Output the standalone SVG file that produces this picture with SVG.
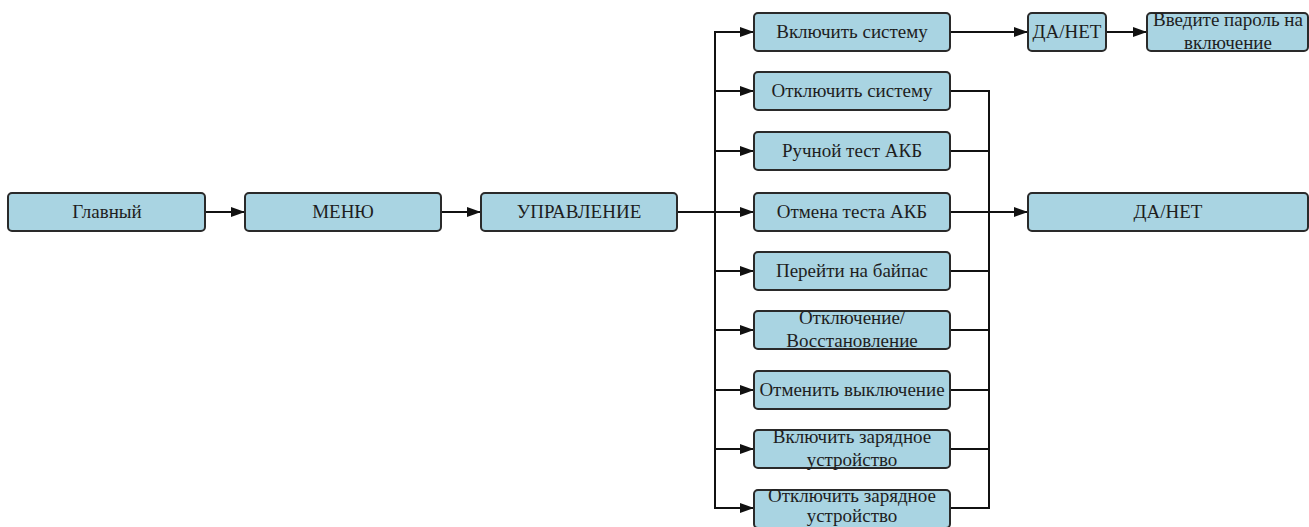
<svg xmlns="http://www.w3.org/2000/svg" width="1309" height="527" viewBox="0 0 1309 527">
<style>
.box{fill:#a9d4e2;stroke:#2a2a2a;stroke-width:2}
.t{font-family:"Liberation Serif","Times New Roman",serif;font-size:19px;fill:#1e1e1e;text-anchor:middle}
.c{fill:none;stroke:#111;stroke-width:2}
</style>
<defs>
<marker id="ar" viewBox="0 0 14 10" refX="14" refY="5" markerWidth="14" markerHeight="10" markerUnits="userSpaceOnUse" orient="auto">
<path d="M0,0 L14,5 L0,10 Z" fill="#111"/>
</marker>
</defs>
<rect width="1309" height="527" fill="#fff"/>
<g id="connectors">
<line class="c" x1="205" y1="212" x2="245" y2="212" marker-end="url(#ar)"/>
<line class="c" x1="441" y1="212" x2="481" y2="212" marker-end="url(#ar)"/>
<line class="c" x1="677" y1="212" x2="754" y2="212" marker-end="url(#ar)"/>
<line class="c" x1="715" y1="31" x2="715" y2="509"/>
<line class="c" x1="714" y1="32" x2="754" y2="32" marker-end="url(#ar)"/>
<line class="c" x1="714" y1="91" x2="754" y2="91" marker-end="url(#ar)"/>
<line class="c" x1="714" y1="151" x2="754" y2="151" marker-end="url(#ar)"/>
<line class="c" x1="714" y1="271" x2="754" y2="271" marker-end="url(#ar)"/>
<line class="c" x1="714" y1="330" x2="754" y2="330" marker-end="url(#ar)"/>
<line class="c" x1="714" y1="390" x2="754" y2="390" marker-end="url(#ar)"/>
<line class="c" x1="714" y1="449" x2="754" y2="449" marker-end="url(#ar)"/>
<line class="c" x1="714" y1="508" x2="754" y2="508" marker-end="url(#ar)"/>
<polyline class="c" points="950,91 989,91 989,508 950,508"/>
<line class="c" x1="950" y1="151" x2="989" y2="151"/>
<line class="c" x1="950" y1="271" x2="989" y2="271"/>
<line class="c" x1="950" y1="330" x2="989" y2="330"/>
<line class="c" x1="950" y1="390" x2="989" y2="390"/>
<line class="c" x1="950" y1="449" x2="989" y2="449"/>
<line class="c" x1="950" y1="212" x2="1028" y2="212" marker-end="url(#ar)"/>
<line class="c" x1="950" y1="32" x2="1028" y2="32" marker-end="url(#ar)"/>
<line class="c" x1="1106" y1="32" x2="1147" y2="32" marker-end="url(#ar)"/>
</g>
<g id="n-glavny"><rect class="box" x="8" y="193" width="197" height="38" rx="4"/><text class="t" x="107" y="218">Главный</text></g>
<g id="n-menu"><rect class="box" x="245" y="193" width="196" height="38" rx="4"/><text class="t" x="343" y="218">МЕНЮ</text></g>
<g id="n-upravlenie"><rect class="box" x="481" y="193" width="196" height="38" rx="4"/><text class="t" x="579" y="218">УПРАВЛЕНИЕ</text></g>
<g id="n-vkl"><rect class="box" x="754" y="13" width="196" height="38" rx="4"/><text class="t" x="852" y="38">Включить систему</text></g>
<g id="n-otkl"><rect class="box" x="754" y="72" width="196" height="38" rx="4"/><text class="t" x="852" y="97">Отключить систему</text></g>
<g id="n-test"><rect class="box" x="754" y="132" width="196" height="38" rx="4"/><text class="t" x="852" y="157">Ручной тест АКБ</text></g>
<g id="n-otmena"><rect class="box" x="754" y="193" width="196" height="38" rx="4"/><text class="t" x="852" y="218">Отмена теста АКБ</text></g>
<g id="n-bypass"><rect class="box" x="754" y="252" width="196" height="38" rx="4"/><text class="t" x="852" y="277">Перейти на байпас</text></g>
<g id="n-vosst"><rect class="box" x="754" y="311" width="196" height="38" rx="4"/><text class="t" x="852" y="324">Отключение/</text><text class="t" x="852" y="347">Восстановление</text></g>
<g id="n-otmvykl"><rect class="box" x="754" y="371" width="196" height="38" rx="4"/><text class="t" x="852" y="396">Отменить выключение</text></g>
<g id="n-vklzar"><rect class="box" x="754" y="430" width="196" height="38" rx="4"/><text class="t" x="852" y="443">Включить зарядное</text><text class="t" x="852" y="466">устройство</text></g>
<g id="n-otklzar"><rect class="box" x="754" y="490" width="196" height="38" rx="4"/><text class="t" x="852" y="502">Отключить зарядное</text><text class="t" x="852" y="522">устройство</text></g>
<g id="n-danet1"><rect class="box" x="1028" y="13" width="78" height="38" rx="4"/><text class="t" x="1067" y="38">ДА/НЕТ</text></g>
<g id="n-parol"><rect class="box" x="1147" y="13" width="161" height="38" rx="4"/><text class="t" x="1228" y="26">Введите пароль на</text><text class="t" x="1228" y="49">включение</text></g>
<g id="n-danet2"><rect class="box" x="1028" y="193" width="280" height="38" rx="4"/><text class="t" x="1168" y="218">ДА/НЕТ</text></g>
</svg>
